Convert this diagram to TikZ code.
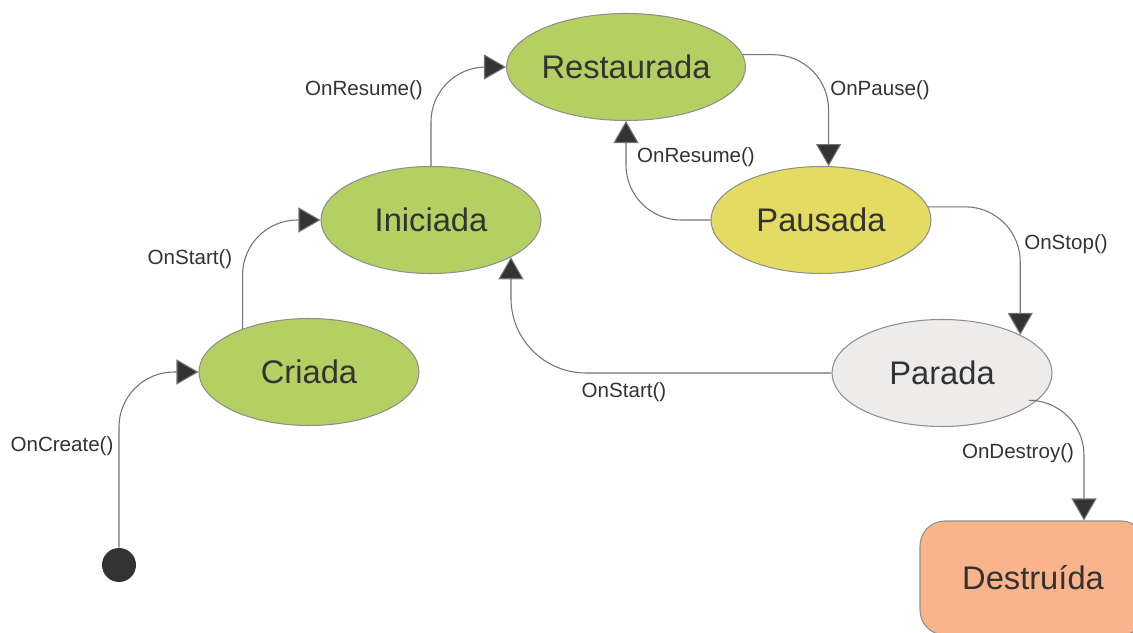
\documentclass[tikz,border=0pt]{standalone}
\usepackage{fontspec}
\setmainfont{Liberation Sans}
\usetikzlibrary{arrows.meta,shapes.geometric,calc}

\definecolor{verde}{RGB}{181,208,98}
\definecolor{amarelo}{RGB}{228,219,98}
\definecolor{cinza}{RGB}{238,236,234}
\definecolor{salmao}{RGB}{249,180,140}
\definecolor{texto}{RGB}{51,51,51}
\definecolor{linha}{RGB}{115,115,115}

\tikzset{
  estado/.style={ellipse,draw=linha!80,line width=0.6pt,inner sep=0pt,
    minimum width=4.4cm,minimum height=2.14cm,text=texto,
    font=\fontsize{18.6}{22}\selectfont},
  rotulo/.style={text=texto,font=\fontsize{11.7}{14}\selectfont},
  trans/.style={draw=linha,line width=0.6pt,rounded corners=1.1cm,
    -{Triangle[length=0.44cm,width=0.5cm,fill=texto]}}
}

\begin{document}
\begin{tikzpicture}[>=Stealth]
  \useasboundingbox (0,0) rectangle (22.66,12.64);
  \fill[white] (0,0) rectangle (22.66,12.64);

  % estados
  \node[circle,fill=texto,minimum size=0.68cm,inner sep=0pt] (inicio) at (2.38,1.34) {};
  \node[estado,fill=verde] (criada) at (6.18,5.2) {Criada};
  \node[estado,fill=verde] (iniciada) at (8.62,8.24) {Iniciada};
  \node[estado,fill=verde] (restaurada) at (12.52,11.3) {Restaurada};
  \node[estado,fill=amarelo] (pausada) at (16.42,8.24) {Pausada};
  \node[estado,fill=cinza] (parada) at (18.84,5.18) {Parada};
  \node[draw=linha!80,fill=salmao,rounded corners=0.5cm,line width=0.6pt,
    minimum width=4.52cm,minimum height=2.28cm,text=texto,
    font=\fontsize{18.6}{22}\selectfont] (destruida) at (20.66,1.08) {Destruída};

  % transicoes
  \draw[trans] (inicio.north) |- (criada.west);
  \draw[trans] (criada.147) |- (iniciada.west);
  \draw[trans] (iniciada.north) |- (restaurada.west);
  \draw[trans] (restaurada.6) -| (pausada.82);
  \draw[trans] (pausada.west) -| (restaurada.south);
  \draw[trans] (pausada.7) -| (parada.26);
  \draw[trans,rounded corners=1.5cm] (parada.west) -| (iniciada.335);
  \draw[trans] (parada.344) -| ([xshift=1.02cm]destruida.north);

  % rotulos
  \node[rotulo] (lcreate) at (1.24,3.72) {OnCreate()};
  \node[rotulo] (lstart) at (3.8,7.46) {OnStart()};
  \node[rotulo] (lresume) at (7.28,10.84) {OnResume()};
  \node[rotulo] (lpause) at (17.6,10.84) {OnPause()};
  \node[rotulo] (lresume2) at (13.92,9.5) {OnResume()};
  \node[rotulo] (lstop) at (21.32,7.76) {OnStop()};
  \node[rotulo] (lstart2) at (12.48,4.8) {OnStart()};
  \node[rotulo] (ldestroy) at (20.36,3.58) {OnDestroy()};
\end{tikzpicture}
\end{document}
